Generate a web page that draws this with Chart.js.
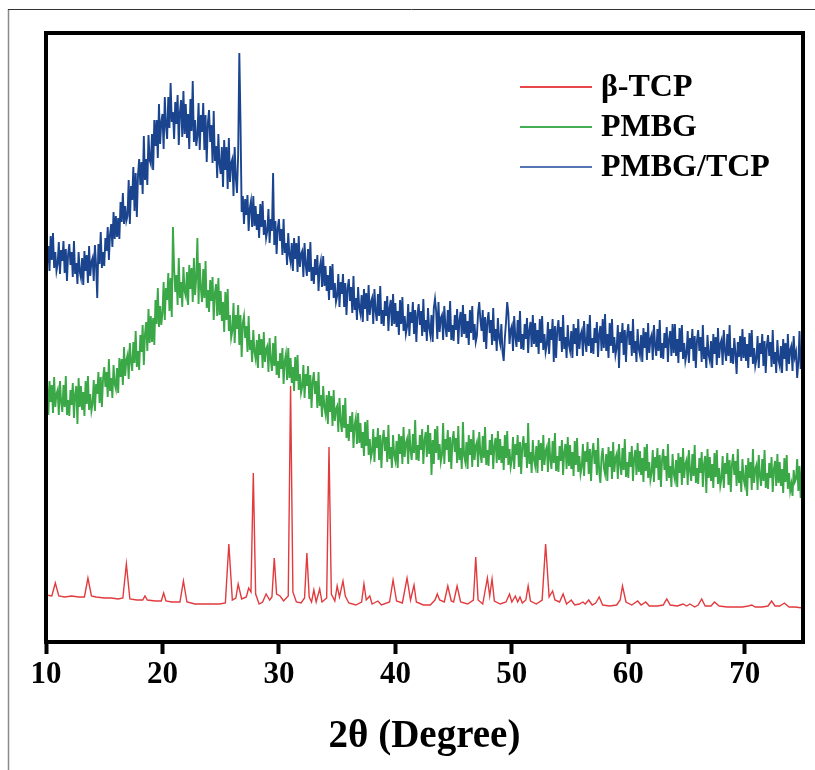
<!DOCTYPE html>
<html>
<head>
<meta charset="utf-8">
<script src="https://cdn.jsdelivr.net/npm/chart.js@4.4.1/dist/chart.umd.min.js"></script>
<style>
html,body{margin:0;padding:0;background:#fff;}
#c{display:block;}
</style>
</head>
<body>
<canvas id="c" width="815" height="770" style="width:815px;height:770px"></canvas>
<script>
// ---------- DATA (arbitrary intensity units) ----------
const seriesNames = ['β-TCP', 'PMBG', 'PMBG/TCP'];
const xTicks = [10, 20, 30, 40, 50, 60, 70];
const twoThetaMin = 10, twoThetaMax = 75;
// sampling grid of the two amorphous scans
const scanStart = 10, scanStep = 0.1;

// β-TCP: 2θ positions and intensities
const tcpX = [10.0,10.5,10.8,11.1,11.6,12.2,12.8,13.3,13.6,13.9,14.3,15.0,15.6,16.2,16.6,16.9,17.2,17.8,18.3,18.5,18.7,19.4,19.9,20.1,20.3,20.8,21.5,21.8,22.1,22.8,23.5,24.2,24.9,25.4,25.7,26.0,26.3,26.5,26.8,27.2,27.4,27.6,27.8,28.0,28.3,28.6,28.9,29.2,29.4,29.6,29.8,30.1,30.4,30.8,31.0,31.2,31.5,31.9,32.2,32.4,32.6,32.8,33.0,33.2,33.5,33.7,34.1,34.3,34.5,34.8,35.0,35.2,35.5,35.7,36.0,36.6,37.1,37.3,37.5,37.8,38.0,38.5,38.8,39.5,39.8,40.1,40.6,41.0,41.3,41.6,41.8,42.4,43.0,43.4,43.6,43.8,44.2,44.5,44.8,45.0,45.3,45.6,46.2,46.7,46.9,47.1,47.5,47.9,48.1,48.3,48.5,49.0,49.5,49.8,50.0,50.3,50.5,50.7,50.9,51.2,51.4,51.6,52.1,52.6,52.9,53.2,53.5,53.7,54.1,54.4,54.7,55.1,55.4,55.8,56.1,56.3,56.6,56.9,57.2,57.5,57.8,58.4,59.0,59.3,59.5,59.8,60.3,60.8,61.1,61.5,61.8,62.5,63.0,63.3,63.6,64.2,64.7,65.0,65.3,65.7,66.0,66.3,66.6,67.1,67.4,67.8,68.5,69.2,69.8,70.3,70.6,70.9,71.5,72.0,72.3,72.6,73.0,73.4,73.8,74.3,75.0];
const tcpY = [47,46,59,46,45,46,45,45,64,46,45,44,44,43,44,78,43,42,42,46,42,41,41,49,41,40,40,61,40,38,38,38,38,39,98,42,44,58,43,45,54,50,169,48,38,40,48,42,45,84,48,46,41,46,256,50,40,39,44,89,45,40,52,40,53,40,44,195,48,41,56,45,61,46,39,37,40,58,42,46,38,41,37,40,62,41,39,64,42,57,40,37,37,42,48,42,40,56,41,40,56,40,38,42,85,42,38,64,46,63,41,38,40,48,40,46,40,45,39,42,56,41,38,42,98,45,51,42,40,48,38,42,37,38,40,38,42,37,39,45,37,36,37,42,56,40,37,41,37,40,36,36,37,43,37,36,38,36,38,35,37,43,36,36,40,36,35,35,35,36,37,35,35,36,41,36,36,39,35,35,34];

// PMBG: one value every 0.1° from 10° to 75° (one line per degree)
const pmbgY = [
274,255,227,261,240,257,229,265,235,248,
252,227,261,240,230,257,235,266,227,242,
226,252,237,259,224,248,256,218,264,235,
256,232,250,226,261,238,266,232,248,231,
238,262,231,258,248,270,239,265,235,264,
275,255,270,245,283,251,264,244,277,258,
253,274,249,284,265,283,257,295,266,282,
287,263,299,280,271,300,279,311,275,291,
272,307,290,317,277,308,320,291,333,299,
326,300,324,297,342,318,354,315,336,317,
329,360,322,354,342,369,331,364,325,415,
374,350,367,337,384,344,360,335,375,351,
346,370,337,377,353,374,340,384,347,364,
404,338,379,353,340,373,344,381,334,352,
330,362,341,365,322,349,358,326,364,327,
351,321,340,310,350,322,353,311,327,304,
311,339,299,327,313,337,297,327,285,319,
326,304,316,290,326,292,302,280,312,290,
283,302,274,308,287,303,274,310,280,293,
296,270,304,282,271,299,276,306,267,281,
264,289,273,294,258,281,288,262,294,264,
284,259,275,251,285,261,287,252,268,249,
255,277,244,268,256,276,243,267,234,261,
270,248,261,234,270,236,247,225,256,235,
228,247,218,251,230,246,216,252,221,233,
236,210,244,221,210,237,214,244,204,218,
201,226,210,230,194,217,224,198,229,199,
219,194,210,186,220,196,222,187,203,184,
190,213,180,205,194,214,182,207,174,202,
212,191,205,180,217,183,195,174,207,187,
181,201,174,208,188,206,178,215,185,199,
203,178,213,192,182,208,189,222,182,197,
181,207,192,213,178,202,210,185,217,188,
209,167,202,178,213,189,216,182,198,180,
187,219,178,203,192,212,180,205,173,201,
211,190,204,179,216,182,194,173,220,186,
180,200,173,207,187,203,175,212,182,196,
200,175,210,189,179,206,184,215,177,192,
176,202,187,208,173,196,204,179,211,182,
203,179,196,172,207,184,211,177,193,175,
182,205,173,198,187,207,175,200,168,196,
206,185,199,174,219,178,190,169,202,182,
176,196,169,202,182,199,171,207,177,191,
195,170,204,183,173,201,179,209,171,186,
170,196,181,202,167,190,198,173,205,176,
197,173,190,166,201,177,204,170,186,168,
175,198,166,191,180,200,168,193,161,189,
199,178,192,167,204,170,159,185,194,174,
168,188,161,195,175,191,163,200,170,184,
188,163,198,177,167,194,172,203,165,180,
164,190,175,196,161,184,192,167,199,170,
191,167,184,160,195,171,198,164,180,162,
169,192,160,185,174,194,162,187,155,183,
193,172,186,161,198,164,176,155,188,168,
162,182,155,189,169,185,157,194,164,178,
182,157,192,171,161,188,166,197,159,174,
158,184,169,190,155,178,186,149,193,164,
185,161,178,154,189,165,192,158,174,156,
163,186,154,179,168,189,157,182,150,178,
188,167,181,156,193,159,171,150,183,163,
157,177,146,184,164,180,152,193,159,173,
177,152,187,166,156,183,161,192,154,169,
153,179,164,185,150,173,181,156,188,159,
180,156,173,149,184,160,187,153,169,151,
158,146,172,160,163,183,151,176,144,172,
168];

// PMBG/TCP: one value every 0.1° from 10° to 75° (one line per degree)
const pmbgTcpY = [
416,379,396,371,406,382,409,374,390,371,
378,400,368,392,381,401,369,393,361,388,
398,377,390,365,401,368,379,358,390,370,
364,384,357,391,371,387,359,396,366,380,
384,361,397,377,344,398,378,410,374,390,
376,404,391,415,382,408,418,395,430,403,
426,405,424,403,440,420,449,418,436,421,
426,462,418,456,442,475,431,469,425,467,
483,457,480,448,506,462,483,457,507,482,
478,508,472,522,496,522,484,538,498,520,
528,493,545,516,503,545,514,559,520,530,
503,540,518,547,497,530,542,505,551,508,
538,504,528,493,543,511,561,500,522,496,
506,539,492,527,510,539,492,527,480,519,
532,500,517,479,531,481,496,464,508,478,
468,495,455,502,472,495,453,504,460,479,
483,446,495,464,449,488,589,520,430,446,
418,443,427,447,411,434,441,415,446,416,
436,412,428,404,438,415,441,407,422,404,
411,433,399,423,411,469,397,421,388,414,
423,401,413,387,423,389,399,377,409,387,
380,399,371,404,383,399,370,406,375,388,
391,365,399,377,366,393,370,400,361,375,
358,383,367,387,351,374,381,355,386,356,
376,351,367,342,376,352,378,344,359,340,
346,368,335,360,348,368,335,359,327,354,
363,341,355,329,366,332,344,322,355,334,
328,347,320,353,333,349,321,357,327,340,
344,318,353,331,321,348,326,356,318,332,
316,341,326,346,311,334,342,316,348,318,
339,315,331,307,342,318,345,311,326,308,
315,338,306,330,319,340,308,332,300,328,
338,317,331,306,343,310,322,301,334,314,
307,327,300,334,343,331,303,340,310,324,
327,302,336,315,305,332,310,341,302,317,
301,327,312,333,298,322,330,305,337,308,
328,304,321,297,332,309,336,302,318,300,
306,329,340,322,311,332,300,325,293,321,
330,309,322,297,334,301,313,291,324,304,
298,318,290,281,304,320,340,329,298,312,
316,291,326,305,295,322,300,331,293,308,
292,318,303,324,289,312,320,295,327,298,
319,295,312,288,323,299,326,292,308,290,
297,320,288,313,302,323,280,316,284,312,
322,301,315,290,327,293,305,284,317,297,
291,311,284,318,298,314,286,323,293,307,
311,286,321,300,290,318,296,327,289,304,
288,314,299,320,285,308,316,291,323,294,
328,291,308,284,319,296,323,289,305,287,
294,317,274,310,299,319,287,312,280,308,
318,297,311,286,323,289,301,280,313,293,
287,307,280,314,294,310,282,319,289,303,
307,282,317,296,286,313,291,322,284,299,
283,309,294,315,280,303,311,286,318,289,
318,286,303,279,314,290,317,283,299,281,
288,311,279,304,293,313,281,306,274,302,
312,291,305,280,317,283,295,274,307,287,
281,301,274,308,288,305,277,314,284,298,
302,277,312,291,281,308,286,317,279,294,
278,304,289,268,300,285,306,281,313,284,
305,281,298,274,309,285,312,278,294,276,
283,306,274,299,288,308,276,301,269,297,
307,286,300,275,312,278,290,269,302,282,
276,296,269,303,283,299,271,308,278,292,
296,271,306,285,290,264,280,311,273,288,
306];

// ---------- BUILD ----------
const toScan = arr => arr.map((v, i) => ({x: +(scanStart + i * scanStep).toFixed(2), y: v}));
const tcpData = tcpX.map((x, i) => ({x: x, y: tcpY[i]}));

const FONT = "'Liberation Serif','Times New Roman',serif";
const colors = ['#e23a3d', '#3ba847', '#1b448f'];
const legendColors = ['#e8474a', '#45ad52', '#5576b5'];

const framePlugin = {
  id: 'frame',
  beforeDraw(chart) {
    const ctx = chart.ctx;
    ctx.save();
    ctx.fillStyle = '#fff';
    ctx.fillRect(0, 0, chart.width, chart.height);
    ctx.strokeStyle = '#8a8a8a';
    ctx.lineWidth = 1.5;
    ctx.beginPath(); ctx.moveTo(8.5, 9); ctx.lineTo(8.5, chart.height); ctx.stroke();
    ctx.strokeStyle = '#333';
    ctx.lineWidth = 1;
    ctx.beginPath(); ctx.moveTo(8, 9.5); ctx.lineTo(chart.width, 9.5); ctx.stroke();
    ctx.restore();
  },
  afterDatasetsDraw(chart) {
    const a = chart.chartArea, ctx = chart.ctx;
    ctx.save();
    ctx.strokeStyle = '#000';
    ctx.lineWidth = 4;
    ctx.strokeRect(a.left, a.top, a.right - a.left, a.bottom - a.top);
    ctx.restore();
  },
  afterDraw(chart) {
    const ctx = chart.ctx;
    ctx.save();
    ctx.font = 'bold 32px ' + FONT;
    ctx.textBaseline = 'middle';
    ctx.textAlign = 'left';
    chart.data.datasets.forEach((ds, i) => {
      const y = 87 + i * 40;
      ctx.strokeStyle = legendColors[i];
      ctx.lineWidth = 2;
      ctx.beginPath(); ctx.moveTo(520, y); ctx.lineTo(592, y); ctx.stroke();
      ctx.fillStyle = '#000';
      ctx.fillText(ds.label, 601, y + 1);
    });
    ctx.restore();
  }
};

new Chart(document.getElementById('c'), {
  type: 'line',
  data: {
    datasets: [
      {label: seriesNames[0], data: tcpData, borderColor: colors[0], borderWidth: 1.4},
      {label: seriesNames[1], data: toScan(pmbgY), borderColor: colors[1], borderWidth: 1.9},
      {label: seriesNames[2], data: toScan(pmbgTcpY), borderColor: colors[2], borderWidth: 1.9}
    ]
  },
  options: {
    responsive: false,
    animation: false,
    devicePixelRatio: 1,
    elements: {point: {radius: 0}, line: {tension: 0, borderJoinStyle: 'miter'}},
    layout: {padding: {left: 46, right: 12, top: 33, bottom: 0}},
    plugins: {legend: {display: false}, tooltip: {enabled: false}},
    scales: {
      x: {
        type: 'linear',
        min: twoThetaMin,
        max: twoThetaMax,
        afterFit(scale) { scale.height = 128; },
        afterBuildTicks(scale) { scale.ticks = xTicks.map(v => ({value: v})); },
        ticks: {
          stepSize: 10,
          autoSkip: false,
          maxRotation: 0,
          padding: 2,
          color: '#000',
          font: {family: FONT, size: 31, weight: 'bold'}
        },
        grid: {drawOnChartArea: false, drawTicks: true, tickLength: 12, tickWidth: 4, tickColor: '#000', color: '#000'},
        border: {display: true, color: '#000', width: 4},
        title: {
          display: true,
          text: '2θ (Degree)',
          color: '#000',
          font: {family: FONT, size: 39, weight: 'bold'},
          padding: {top: 0, bottom: 10}
        }
      },
      y: {display: false, min: 0, max: 609}
    }
  },
  plugins: [framePlugin]
});
</script>
</body>
</html>
